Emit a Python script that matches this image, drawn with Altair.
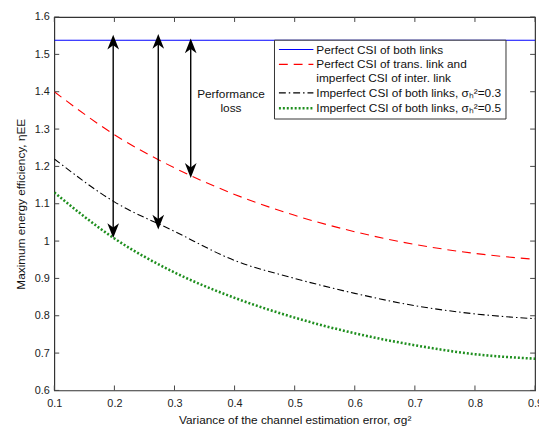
import altair as alt
import pandas as pd

# ---- data ----
x_vals = [0.1, 0.2, 0.3, 0.4, 0.5, 0.6, 0.7, 0.8, 0.9]
perfect_both = [1.538, 1.538, 1.538, 1.538, 1.538, 1.538, 1.538, 1.538, 1.538]
perfect_trans = [1.40, 1.285, 1.196, 1.125, 1.069, 1.025, 0.991, 0.967, 0.951]
imperfect_03 = [1.22, 1.105, 1.026, 0.948, 0.900, 0.860, 0.827, 0.805, 0.792]
imperfect_05 = [1.13, 1.007, 0.916, 0.848, 0.795, 0.753, 0.721, 0.697, 0.685]

series_names = [
    "Perfect CSI of both links",
    "Perfect CSI of trans. link and|imperfect CSI of inter. link",
    "Imperfect CSI of both links, σₕ²=0.3",
    "Imperfect CSI of both links, σₕ²=0.5",
]
series_colors = ["#0000ff", "#ff0000", "#000000", "#1f8f1f"]
series_dashes = [[1, 0], [9, 6], [7, 3, 1.5, 3], [2, 2]]
series_widths = [1.1, 1.1, 1.1, 2.6]

x_ticks = [0.1, 0.2, 0.3, 0.4, 0.5, 0.6, 0.7, 0.8, 0.9]
y_ticks = [0.6, 0.7, 0.8, 0.9, 1.0, 1.1, 1.2, 1.3, 1.4, 1.5, 1.6]

arrow_x = [0.198, 0.273, 0.327]
arrow_top = [1.532, 1.534, 1.522]
arrow_bottom = [1.029, 1.052, 1.19]

annot_x = [0.394]
annot_y = [1.395]
annot_text = ["Performance\nloss"]

W, H = 488, 379
FONT = "Liberation Sans"

rows = []
for name, ys in zip(series_names, [perfect_both, perfect_trans, imperfect_03, imperfect_05]):
    for x, y in zip(x_vals, ys):
        rows.append({"x": x, "y": y, "series": name})
df = pd.DataFrame(rows)

xs = alt.Scale(domain=[0.1, 0.9], nice=False, zero=False)
ys_ = alt.Scale(domain=[0.6, 1.6], nice=False, zero=False)

legend = alt.Legend(
    title=None, orient="none", legendX=223, legendY=23,
    fillColor="white", strokeColor="#333333", padding=4,
    labelFontSize=12, labelFont=FONT, labelLimit=400, labelColor="#111111",
    symbolType="M-3.5,0L3.5,0", symbolSize=100, symbolOffset=12, labelOffset=14,
    symbolStrokeWidth=1.6, rowPadding=3,
    labelExpr="split(datum.label, '|')",
)

x_axis = alt.Axis(values=x_ticks, format="~g", ticks=False, domain=False, grid=False,
                  labelPadding=7, labelOverlap=False, labelFlush=False,
                  title="Variance of the channel estimation error, σg²", titlePadding=7)
y_axis = alt.Axis(values=y_ticks, format="~g", ticks=False, domain=False, grid=False,
                  labelPadding=5, labelOverlap=False, labelFlush=False,
                  title="Maximum energy efficiency, ηEE", titlePadding=7)

lines = alt.Chart(df).mark_line(interpolate="monotone", clip=True).encode(
    x=alt.X("x:Q", scale=xs, axis=x_axis),
    y=alt.Y("y:Q", scale=ys_, axis=y_axis),
    stroke=alt.Stroke("series:N", sort=series_names,
                      scale=alt.Scale(domain=series_names, range=series_colors),
                      legend=legend),
    strokeDash=alt.StrokeDash("series:N", sort=series_names,
                              scale=alt.Scale(domain=series_names, range=series_dashes),
                              legend=legend),
    strokeWidth=alt.StrokeWidth("series:O", sort=series_names,
                                scale=alt.Scale(type="ordinal", domain=series_names, range=series_widths),
                                legend=None),
)

arrows_df = pd.DataFrame({"x": arrow_x, "top": arrow_top, "bottom": arrow_bottom})
shafts = alt.Chart(arrows_df).mark_rule(color="black", strokeWidth=1.4).encode(
    x=alt.X("x:Q", scale=xs, axis=x_axis), y=alt.Y("top:Q", scale=ys_, axis=y_axis), y2="bottom:Q")
head_up = alt.Chart(arrows_df).mark_point(
    shape="M0,-1L-0.75,0.9L0,0.35L0.75,0.9Z", filled=True, color="black", size=250, opacity=1
).encode(x=alt.X("x:Q", scale=xs, axis=x_axis), y=alt.Y("top:Q", scale=ys_, axis=y_axis))
head_down = alt.Chart(arrows_df).mark_point(
    shape="M0,1L-0.75,-0.9L0,-0.35L0.75,-0.9Z", filled=True, color="black", size=250, opacity=1
).encode(x=alt.X("x:Q", scale=xs, axis=x_axis), y=alt.Y("bottom:Q", scale=ys_, axis=y_axis))

annot_df = pd.DataFrame({"x": annot_x, "y": annot_y, "t": annot_text})
annot = alt.Chart(annot_df).mark_text(font=FONT, fontSize=12, lineBreak="\n", color="#111111",
                                      align="center", baseline="middle", lineHeight=15).encode(
    x=alt.X("x:Q", scale=xs, axis=x_axis), y=alt.Y("y:Q", scale=ys_, axis=y_axis), text="t:N")

xt_df = pd.DataFrame({"v": x_ticks})
yt_df = pd.DataFrame({"v": y_ticks})
tick_color = "#444444"
xt_bottom = alt.Chart(xt_df).mark_rule(color=tick_color).encode(
    x=alt.X("v:Q", scale=xs, axis=x_axis), y=alt.value(H), y2=alt.value(H - 5))
xt_top = alt.Chart(xt_df).mark_rule(color=tick_color).encode(
    x=alt.X("v:Q", scale=xs, axis=x_axis), y=alt.value(0), y2=alt.value(5))
yt_left = alt.Chart(yt_df).mark_rule(color=tick_color).encode(
    y=alt.Y("v:Q", scale=ys_, axis=y_axis), x=alt.value(0), x2=alt.value(5))
yt_right = alt.Chart(yt_df).mark_rule(color=tick_color).encode(
    y=alt.Y("v:Q", scale=ys_, axis=y_axis), x=alt.value(W), x2=alt.value(W - 5))

chart = alt.layer(
    lines, xt_bottom, xt_top, yt_left, yt_right, shafts, head_up, head_down, annot
).properties(
    width=W, height=H,
    autosize=alt.AutoSizeParams(type="none"),
    padding={"left": 47, "top": 6, "right": 4, "bottom": 38},
    background="white",
).configure_view(
    stroke="#333333", strokeWidth=1.2
).configure_axis(
    labelFont=FONT, titleFont=FONT, labelFontSize=11, titleFontSize=12,
    labelColor="#222222", titleColor="#111111", titleFontWeight="normal",
    labelOverlap=False
)

chart.save("out.html", embed_options={"renderer": "svg", "actions": False})
